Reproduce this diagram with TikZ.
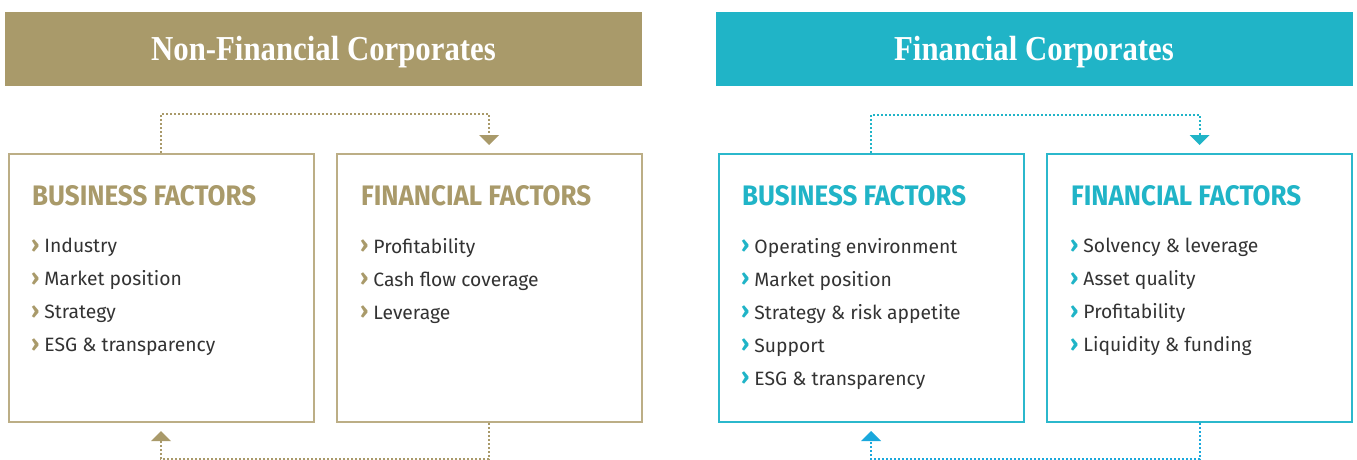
\documentclass[tikz,border=0pt]{standalone}
\usepackage{fontspec}
\setmainfont{Fira Sans}
\newfontfamily\titlefont[FakeStretch=0.88]{Liberation Serif}
\newfontfamily\headfont[FakeStretch=0.92]{Fira Sans}
\usetikzlibrary{arrows.meta}
\definecolor{gold}{HTML}{A99A6A}
\definecolor{goldline}{HTML}{BCAE86}
\definecolor{teal}{HTML}{20B4C7}
\definecolor{tealline}{HTML}{2BB8CC}
\definecolor{tealarrow}{HTML}{1AA8DC}
\definecolor{itemtext}{HTML}{333333}
\tikzset{
  banner/.style={fill=#1, draw=none, minimum width=637pt, minimum height=74pt, inner sep=0pt,
    text=white},
  bannertext/.style={inner sep=0pt, text=white, font=\titlefont\bfseries\fontsize{35}{38}\selectfont},
  factorbox/.style={draw=#1, line width=2pt, fill=white, minimum width=305pt, minimum height=268pt, inner sep=0pt},
  heading/.style={anchor=base west, inner sep=0pt, text=#1, font=\headfont\bfseries\fontsize{28.2}{30}\selectfont},
  itemlist/.style={anchor=north west, inner sep=0pt, align=left, text=itemtext,
    font=\fontsize{19.3}{33}\selectfont},
  conn/.style={draw=#1, line width=2pt, dotted, shorten >=8pt,
    -{Triangle[width=20pt,length=10pt,fill=#1,line width=0pt]}},
}
\newcommand{\bl}[1]{\raisebox{0.5pt}{\textcolor{#1}{\fontsize{23}{23}\selectfont\bfseries ›}}\hspace{5pt}}
\begin{document}
\begin{tikzpicture}[x=1pt,y=-1pt]
\useasboundingbox (0,0) rectangle (1357,460);
% banners
\node[banner=gold] (nfc) at (323.5,49) {};
\node[banner=teal] (fc) at (1034,49) {};
\node[bannertext, anchor=base] (nfct) at (323.5,61) {Non-Financial Corporates};
\node[bannertext, anchor=base] (fct) at (1034,61) {Financial Corporates};
% boxes
\node[factorbox=goldline] (b1) at (161,288) {};
\node[factorbox=goldline] (b2) at (489,288) {};
\node[factorbox=tealline] (b3) at (871,288) {};
\node[factorbox=tealline] (b4) at (1199.5,288) {};
% connectors
\draw[conn=gold] (b1.north) -- ++(0,-39) -| (b2.north);
\draw[conn=gold] (b2.south) -- ++(0,36) -| (b1.south);
\draw[conn=teal] (b3.north) -- ++(0,-38) -| (b4.north);
\draw[conn=tealarrow] (b4.south) -- ++(0,36) -| (b3.south);
% headings
\node[heading=gold] (h1) at (32,205) {BUSINESS FACTORS};
\node[heading=gold] (h2) at (361,205) {FINANCIAL FACTORS};
\node[heading=teal] (h3) at (742,205) {BUSINESS FACTORS};
\node[heading=teal] (h4) at (1071,205) {FINANCIAL FACTORS};
% items
\node[itemlist] (l1) at (31,238) {\bl{gold}Industry\\\bl{gold}Market position\\\bl{gold}Strategy\\\bl{gold}ESG \& transparency};
\node[itemlist] (l2) at (360,238) {\bl{gold}Profitability\\\bl{gold}Cash flow coverage\\\bl{gold}Leverage};
\node[itemlist] (l3) at (741,238) {\bl{teal}Operating environment\\\bl{teal}Market position\\\bl{teal}Strategy \& risk appetite\\\bl{teal}Support\\\bl{teal}ESG \& transparency};
\node[itemlist] (l4) at (1070,238) {\bl{teal}Solvency \& leverage\\\bl{teal}Asset quality\\\bl{teal}Profitability\\\bl{teal}Liquidity \& funding};
\end{tikzpicture}
\end{document}
